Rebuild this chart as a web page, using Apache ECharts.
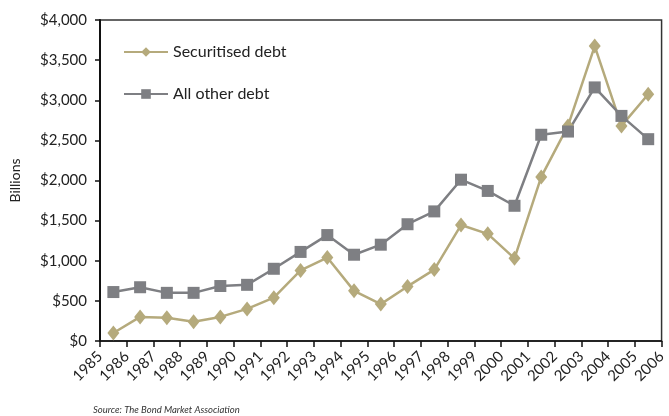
<!DOCTYPE html>
<html><head><meta charset="utf-8">
<script src="https://cdn.jsdelivr.net/npm/echarts@6/dist/echarts.min.js"></script>
<style>html,body{margin:0;padding:0;background:#fff}#c{width:669px;height:416px}</style>
</head><body><div id="c"></div>
<script>
const years = [1985,1986,1987,1988,1989,1990,1991,1992,1993,1994,1995,1996,1997,1998,1999,2000,2001,2002,2003,2004,2005];
const securitised = [100,300,290,240,300,400,540,880,1040,625,460,680,890,1445,1335,1030,2045,2680,3675,2680,3075];
const allOther = [610,670,600,600,685,700,900,1110,1320,1075,1200,1455,1615,2010,1870,1685,2570,2610,3160,2805,2515];
const FONT = 'Lato';
const pairs = vals => vals.map((v,i)=>[years[i]+0.5, v]);
const chart = echarts.init(document.getElementById('c'));
chart.setOption({
  animation:false,
  textStyle:{fontFamily:FONT},
  grid:{left:95,right:4,top:20,bottom:75,show:true,borderColor:'#333',borderWidth:1.5},
  legend:{orient:'vertical',left:118,top:39,itemWidth:44,itemHeight:12,itemGap:26,
    textStyle:{fontFamily:FONT,fontSize:16,color:'#222'},
    data:['Securitised debt','All other debt']},
  xAxis:{type:'value',min:1985,max:2006,interval:1,
    axisLine:{lineStyle:{color:'#111',width:1.5}},
    axisTick:{length:6,lineStyle:{color:'#111',width:1.5}},
    splitLine:{show:false},
    axisLabel:{rotate:45,fontFamily:FONT,fontSize:15,color:'#222',margin:13,formatter:v=>String(v)}},
  yAxis:{type:'value',min:0,max:4000,interval:500,name:'Billions',nameLocation:'middle',nameGap:78,
    nameTextStyle:{fontFamily:FONT,fontSize:14,color:'#222'},
    axisLine:{show:true,lineStyle:{color:'#111',width:2}},
    axisTick:{show:true,length:5,lineStyle:{color:'#111',width:1.5}},
    splitLine:{show:false},
    axisLabel:{fontFamily:FONT,fontSize:15,color:'#222',margin:13,formatter:v=>'$'+v.toLocaleString('en-US')}},
  graphic:[{type:'text',left:93,top:405,style:{text:'Source: The Bond Market Association',fontFamily:FONT,fontStyle:'italic',fontSize:9.5,fill:'#333'}}],
  series:[
    {name:'Securitised debt',type:'line',data:pairs(securitised),symbol:'diamond',symbolSize:[12,15],
      lineStyle:{color:'#b5aa7c',width:2.5},itemStyle:{color:'#b5aa7c'}},
    {name:'All other debt',type:'line',data:pairs(allOther),symbol:'rect',symbolSize:12,
      lineStyle:{color:'#7e7f83',width:2.5},itemStyle:{color:'#7e7f83'}}
  ]
});
</script></body></html>
